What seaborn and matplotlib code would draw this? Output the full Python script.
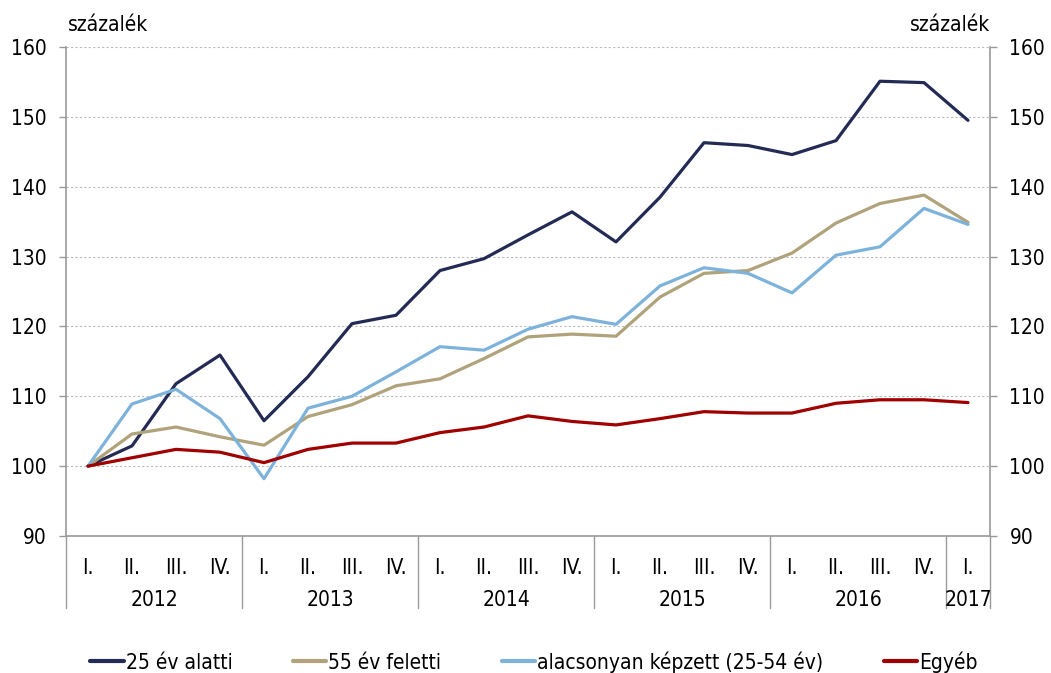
import numpy as np
import pandas as pd
import matplotlib
matplotlib.use("Agg")
import matplotlib.pyplot as plt
import matplotlib.transforms as mtransforms
import seaborn as sns

# quarters 2012 I .. 2017 I
quarters = ["I.", "II.", "III.", "IV."] * 5 + ["I."]
years = ["2012"] * 4 + ["2013"] * 4 + ["2014"] * 4 + ["2015"] * 4 + ["2016"] * 4 + ["2017"]

under_25 = [100, 102.9, 111.8, 115.9, 106.5, 112.8, 120.4, 121.6, 128.0, 129.7, 133.1,
            136.4, 132.1, 138.5, 146.3, 145.9, 144.6, 146.6, 155.1, 154.9, 149.5]
over_55 = [100, 104.6, 105.6, 104.2, 103.0, 107.1, 108.8, 111.5, 112.5, 115.4, 118.5,
           118.9, 118.6, 124.2, 127.6, 128.0, 130.5, 134.8, 137.6, 138.8, 134.9]
low_skilled = [100, 108.9, 111.0, 106.8, 98.2, 108.3, 110.0, 113.5, 117.1, 116.6, 119.6,
               121.4, 120.3, 125.8, 128.4, 127.6, 124.8, 130.2, 131.4, 136.9, 134.6]
other = [100, 101.2, 102.4, 102.0, 100.5, 102.4, 103.3, 103.3, 104.8, 105.6, 107.2,
         106.4, 105.9, 106.8, 107.8, 107.6, 107.6, 109.0, 109.5, 109.5, 109.1]

series_names = ["25 év alatti", "55 év feletti", "alacsonyan képzett (25-54 év)", "Egyéb"]
colors = ["#232B55", "#B0A27A", "#7DB3DB", "#A00000"]

df = pd.DataFrame({
    "idx": list(range(len(quarters))) * 4,
    "value": under_25 + over_55 + low_skilled + other,
    "series": np.repeat(series_names, len(quarters)),
})

sns.set_style("white")
plt.rcParams["font.family"] = ["DejaVu Sans"]
plt.rcParams["font.stretch"] = "condensed"
plt.rcParams["font.size"] = 15
plt.rcParams["text.color"] = "black"

fs = 15
fig = plt.figure(figsize=(10.51, 6.73), dpi=100)
ax = fig.add_axes([66 / 1051, 1 - 536 / 673, (990 - 66) / 1051, (536 - 47) / 673])

sns.lineplot(data=df, x="idx", y="value", hue="series", hue_order=series_names,
             palette=colors, linewidth=2.3, ax=ax, legend=False)

ax.set_xlim(-0.5, len(quarters) - 0.5)
ax.set_ylim(90, 160)
ax.set_yticks(range(90, 161, 10))
for v in range(100, 161, 10):
    ax.axhline(v, color="#bbbbbb", linestyle=(0, (2, 2)), linewidth=0.8, zorder=0)

ax.set_xticks(range(len(quarters)))
ax.set_xticklabels(quarters)
ax.tick_params(axis="x", length=0, pad=16, labelcolor="black", labelsize=fs)
ax.tick_params(axis="y", length=5, width=1, color="#999999", direction="out", pad=9,
               labelcolor="black", labelsize=fs)
ax.set_xlabel("")
ax.set_ylabel("")

for side in ["left", "right", "bottom"]:
    ax.spines[side].set_color("#999999")
    ax.spines[side].set_linewidth(1.2)
ax.spines["top"].set_visible(False)

ax2 = ax.twinx()
ax2.set_ylim(ax.get_ylim())
ax2.set_yticks(range(90, 161, 10))
ax2.tick_params(axis="y", length=5, width=1, color="#999999", direction="out", pad=9,
                labelcolor="black", labelsize=fs)
for side in ["left", "right", "bottom", "top"]:
    ax2.spines[side].set_visible(False)

# year labels and separators under the quarter labels
trans = mtransforms.blended_transform_factory(ax.transData, ax.transAxes)
year_list = list(dict.fromkeys(years))
bounds = [-0.5]
for y in year_list:
    pos = [i for i, yy in enumerate(years) if yy == y]
    ax.text(np.mean(pos), -0.13, y, transform=trans, ha="center", va="center", fontsize=fs)
    bounds.append(pos[-1] + 0.5)
for b in bounds:
    ax.plot([b, b], [0, -0.148], transform=trans, color="#999999", linewidth=1,
            clip_on=False)

fig.text(68 / 1051, 1 - 25 / 673, "százalék", ha="left", va="center", fontsize=fs)
fig.text(990 / 1051, 1 - 25 / 673, "százalék", ha="right", va="center", fontsize=fs)

handles = [plt.Line2D([], [], color=c, linewidth=3) for c in colors]
fig.legend(handles, series_names, loc="center", bbox_to_anchor=(0.508, 1 - 662 / 673),
           ncol=4, frameon=False, handlelength=1.6, handletextpad=0.1,
           columnspacing=2.9, fontsize=fs)

fig.savefig("out.png", dpi=100)
